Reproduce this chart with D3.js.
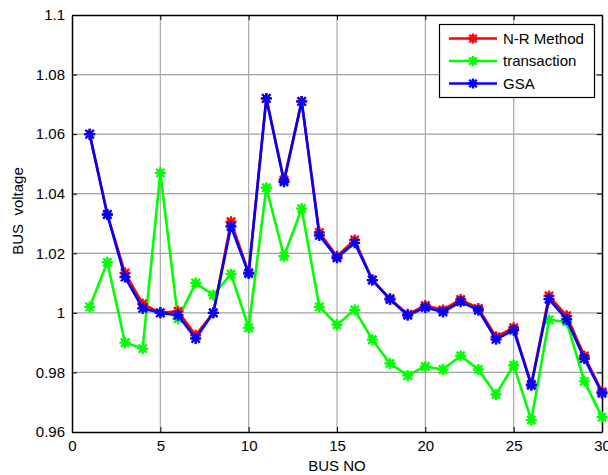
<!DOCTYPE html>
<html><head><meta charset="utf-8">
<script src="https://cdn.jsdelivr.net/npm/d3@7"></script>
<style>body{margin:0;background:#fff;} svg{display:block;} text{font-family:"Liberation Sans",Arial,sans-serif;}</style>
</head><body>
<svg id="chart" width="608" height="475"></svg>
<script>
const buses = d3.range(1, 31);
const nrMethod = [1.060,1.033,1.0134,1.003,1.000,1.0005,0.9925,1.000,1.0306,1.0135,1.072,1.0446,1.071,1.027,1.019,1.0245,1.011,1.0048,0.9995,1.0025,1.001,1.0045,1.0015,0.992,0.995,0.976,1.0057,0.999,0.9855,0.9735];
const transaction = [1.002,1.017,0.990,0.988,1.047,0.998,1.010,1.006,1.013,0.995,1.042,1.019,1.035,1.002,0.996,1.001,0.991,0.983,0.979,0.982,0.981,0.9856,0.981,0.9726,0.9824,0.964,0.9976,0.997,0.977,0.965];
const gsa = [1.060,1.033,1.012,1.0015,1.000,0.9992,0.9914,1.000,1.029,1.0132,1.072,1.044,1.071,1.026,1.0185,1.0235,1.011,1.0045,0.9992,1.0018,1.0003,1.0037,1.0009,0.9911,0.9942,0.9757,1.0046,0.9978,0.9847,0.973];
const seriesNames = ["N-R Method","transaction","GSA"];
const seriesColors = ["#ff0000","#00ff00","#0000ff"];
const xTicks = [0,5,10,15,20,25,30];
const yTicks = [0.96,0.98,1.00,1.02,1.04,1.06,1.08,1.10];
const yTickLabels = ["0.96","0.98","1","1.02","1.04","1.06","1.08","1.1"];
const xLabel = "BUS NO";
const yLabel = "BUS  voltage";

const svg = d3.select("#chart");
const L = 72, R = 602, T = 15, B = 432;
const x = d3.scaleLinear().domain([0,30]).range([L,R]);
const y = d3.scaleLinear().domain([0.96,1.1]).range([B,T]);

// grid
const g = svg.append("g");
g.selectAll(".vg").data(xTicks.slice(1,-1)).join("line")
  .attr("x1",d=>x(d)).attr("x2",d=>x(d)).attr("y1",T).attr("y2",B)
  .attr("stroke","#a8a8a8").attr("stroke-width",1.2);
g.selectAll(".hg").data(yTicks.slice(1,-1)).join("line")
  .attr("y1",d=>y(d)).attr("y2",d=>y(d)).attr("x1",L).attr("x2",R)
  .attr("stroke","#a0a0a0").attr("stroke-width",1.2);

// axes with inward ticks
const fmtY = d => yTickLabels[yTicks.indexOf(d)];
const axB = svg.append("g").attr("transform",`translate(0,${B})`)
  .call(d3.axisBottom(x).tickValues(xTicks).tickSizeInner(-5).tickSizeOuter(0).tickPadding(8).tickFormat(d3.format("d")));
const axT = svg.append("g").attr("transform",`translate(0,${T})`)
  .call(d3.axisTop(x).tickValues(xTicks).tickSizeInner(-5).tickSizeOuter(0).tickFormat(""));
const axL = svg.append("g").attr("transform",`translate(${L},0)`)
  .call(d3.axisLeft(y).tickValues(yTicks).tickSizeInner(-5).tickSizeOuter(0).tickPadding(7).tickFormat(fmtY));
const axR = svg.append("g").attr("transform",`translate(${R},0)`)
  .call(d3.axisRight(y).tickValues(yTicks).tickSizeInner(-5).tickSizeOuter(0).tickFormat(""));
[axB,axT,axL,axR].forEach(a=>{
  a.select(".domain").attr("stroke","#000").attr("stroke-width",1.5);
  a.selectAll(".tick line").attr("stroke","#000").attr("stroke-width",1);
  a.selectAll("text").attr("fill","#000").style("font-size","15px").style("font-family","'Liberation Sans',Arial,sans-serif");
});
axB.selectAll("text").attr("dy","0.71em");

// markers: asterisk
function star(cx, cy, r) {
  const d = r*0.75;
  return `M${cx-r},${cy}L${cx+r},${cy}M${cx},${cy-r}L${cx},${cy+r}M${cx-d},${cy-d}L${cx+d},${cy+d}M${cx-d},${cy+d}L${cx+d},${cy-d}`;
}
const allSeries = [nrMethod, transaction, gsa];
const line = d3.line().x((d,i)=>x(buses[i])).y(d=>y(d));
const drawOrder = [1,0,2];
drawOrder.forEach(si=>{
  const vals = allSeries[si];
  const sg = svg.append("g");
  sg.append("path").attr("d", line(vals)).attr("fill","none")
    .attr("stroke",seriesColors[si]).attr("stroke-width",2.6).attr("stroke-linejoin","round");
  sg.selectAll("path.m").data(vals).join("path").attr("class","m")
    .attr("d",(d,i)=>star(x(buses[i]), y(d), 5.5))
    .attr("stroke",seriesColors[si]).attr("stroke-width",2.4).attr("fill","none");
});

// legend
const lg = svg.append("g");
lg.append("rect").attr("x",439.5).attr("y",24.5).attr("width",155).attr("height",73)
  .attr("fill","#fff").attr("stroke","#000").attr("stroke-width",1.2);
seriesNames.forEach((n,i)=>{
  const yy = 38.5 + i*22.5;
  lg.append("line").attr("x1",449).attr("x2",497).attr("y1",yy).attr("y2",yy)
    .attr("stroke",seriesColors[i]).attr("stroke-width",2.6);
  lg.append("path").attr("d",star(473,yy,5)).attr("stroke",seriesColors[i]).attr("stroke-width",2.4);
  lg.append("text").attr("x",503).attr("y",yy).attr("dy","0.36em").text(n)
    .style("font-size","15px").attr("fill","#000");
});

// axis labels
svg.append("text").attr("x",(L+R)/2).attr("y",471).attr("text-anchor","middle")
  .style("font-size","15px").text(xLabel);
svg.append("text").attr("transform",`translate(23,211) rotate(-90)`).attr("text-anchor","middle")
  .style("font-size","15px").style("white-space","pre").attr("xml:space","preserve").text(yLabel);
</script>
</body></html>
